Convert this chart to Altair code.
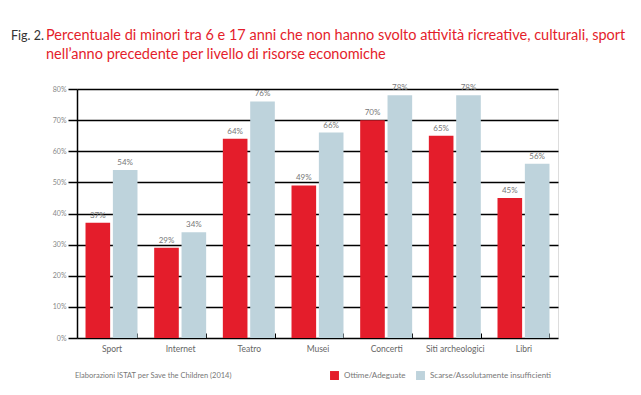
import altair as alt
import pandas as pd

categories = ["Sport", "Internet", "Teatro", "Musei", "Concerti", "Siti archeologici", "Libri"]
series = ["Ottime/Adeguate", "Scarse/Assolutamente insufficienti"]
ottime = [37, 29, 64, 49, 70, 65, 45]
scarse = [54, 34, 76, 66, 78, 78, 56]
y_ticks = [0, 10, 20, 30, 40, 50, 60, 70, 80]
colors = ["#E41D2B", "#BED3DC"]

rows = []
for c, a, b in zip(categories, ottime, scarse):
    rows.append({"cat": c, "serie": series[0], "val": a})
    rows.append({"cat": c, "serie": series[1], "val": b})
df = pd.DataFrame(rows)

FONT = "Lato"
W, H = 481, 249

x = alt.X("cat:N", sort=categories, title=None,
          scale=alt.Scale(paddingInner=0.243, paddingOuter=0.124),
          axis=alt.Axis(labelFont=FONT, labelFontSize=8.5, labelColor="#666666",
                        labelAngle=0, domain=False, ticks=True, tickBand="extent",
                        tickColor="#000000", tickSize=5, tickWidth=1, offset=-5,
                        labelPadding=6, grid=False))
yscale = alt.Scale(domain=[0, 80], nice=False)
y = alt.Y("val:Q", title=None, scale=yscale,
          axis=alt.Axis(values=y_ticks, tickCount=12, labelOverlap=False, labelFlush=False,
                        labelExpr="datum.value + '%'",
                        labelFont=FONT, labelFontSize=7, labelColor="#888888",
                        labelPadding=2, domainColor="#000000", domainWidth=1.5,
                        tickColor="#000000", tickSize=9, tickWidth=1.5,
                        grid=True, gridColor="#000000", gridWidth=1.5, gridOpacity=1))
xo = alt.XOffset("serie:N", sort=series, scale=alt.Scale(paddingInner=0.1))
color = alt.Color("serie:N", sort=series,
                  scale=alt.Scale(domain=series, range=colors),
                  legend=alt.Legend(title=None, orient="none", legendX=253, legendY=282,
                                    direction="horizontal", symbolType="square",
                                    symbolSize=80, symbolStrokeWidth=0, symbolOpacity=1,
                                    labelFont=FONT, labelFontSize=8, labelColor="#777777",
                                    labelOffset=5, columnPadding=10))

base = alt.Chart(df)
bars = base.mark_bar(opacity=1).encode(x=x, y=y, xOffset=xo, color=color)
labels = base.transform_calculate(lbl="datum.val + '%'").mark_text(
    dy=-7, font=FONT, fontSize=8, color="#777777").encode(
    x=x, y=y, xOffset=xo, text="lbl:N")

ann = pd.DataFrame({"t": ["Elaborazioni ISTAT per Save the Children (2014)"]})
footer = alt.Chart(ann).mark_text(align="left", baseline="middle", font=FONT, fontSize=7.5,
                                  color="#777777").encode(
    x=alt.value(-2), y=alt.value(287), text="t:N")

fig = alt.Chart(pd.DataFrame({"t": ["Fig. 2."]})).mark_text(
    align="left", baseline="alphabetic", font=FONT, fontSize=12.5, color="#333333").encode(
    x=alt.value(-66), y=alt.value(-49), text="t:N")
t1 = alt.Chart(pd.DataFrame({"t": ["Percentuale di minori tra 6 e 17 anni che non hanno svolto attività ricreative, culturali, sport"]})).mark_text(
    align="left", baseline="alphabetic", font=FONT, fontSize=14.5, color="#E41D2B").encode(
    x=alt.value(-31), y=alt.value(-49), text="t:N")
t2 = alt.Chart(pd.DataFrame({"t": ["nell’anno precedente per livello di risorse economiche"]})).mark_text(
    align="left", baseline="alphabetic", font=FONT, fontSize=14.5, color="#E41D2B").encode(
    x=alt.value(-31), y=alt.value(-30), text="t:N")

chart = alt.layer(bars, labels, footer, fig, t1, t2).properties(
    width=W, height=H,
    autosize=alt.AutoSizeParams(type="none"),
    padding={"left": 69, "top": 81, "right": 70, "bottom": 45},
).configure_view(stroke=None).configure(background="#ffffff")

chart.save("out.html", embed_options={"renderer": "svg", "actions": False})
